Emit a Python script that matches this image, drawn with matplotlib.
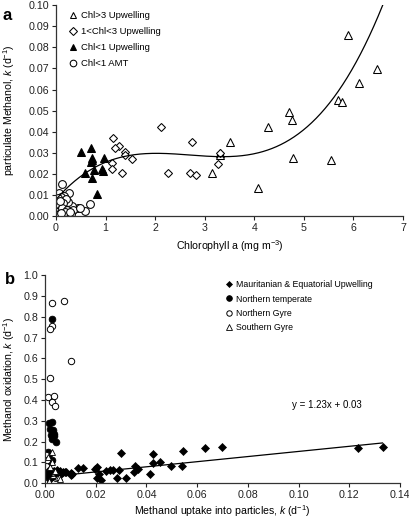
import matplotlib
matplotlib.use("Agg")
import matplotlib.pyplot as plt
import numpy as np

plt.rcParams['font.family'] = ['Liberation Sans', 'DejaVu Sans']
plt.rcParams['mathtext.fontset'] = 'custom'
plt.rcParams['mathtext.rm'] = 'Liberation Sans'
plt.rcParams['mathtext.it'] = 'Liberation Sans:italic'
plt.rcParams['mathtext.bf'] = 'Liberation Sans:bold'

# ---------------- Panel a data ----------------
chl3_x = [5.89, 6.47, 6.11, 5.68, 5.76, 4.70, 4.77, 4.28, 3.50, 3.30, 3.31, 3.15, 4.79, 5.54, 4.07]
chl3_y = [0.0858, 0.0695, 0.0629, 0.0550, 0.0539, 0.0494, 0.0455, 0.0423, 0.0352, 0.0297, 0.0290,
          0.0202, 0.0273, 0.0264, 0.0133]

chl13_x = [2.11, 2.75, 2.26, 2.70, 2.82, 3.27, 3.30, 1.14, 1.28, 1.20, 1.40, 1.40, 1.54, 1.12, 1.12, 1.34]
chl13_y = [0.0421, 0.0352, 0.0206, 0.0202, 0.0195, 0.0248, 0.0300, 0.0368, 0.0333, 0.0321, 0.0302,
           0.0289, 0.0270, 0.0252, 0.0222, 0.0202]

chl1_up_x = [0.51, 0.70, 0.72, 0.70, 0.73, 0.97, 0.58, 0.77, 0.92, 0.94, 0.72, 0.83,
             0.05, 0.08, 0.10, 0.12, 0.15, 0.20, 0.25, 0.30, 0.33, 0.06, 0.09, 0.04, 0.18, 0.28]
chl1_up_y = [0.0305, 0.0324, 0.0276, 0.0254, 0.0265, 0.0273, 0.0206, 0.0217, 0.0221, 0.0213, 0.0182, 0.0103,
             0.0020, 0.0040, 0.0060, 0.0030, 0.0050, 0.0020, 0.0030, 0.0030, 0.0040, 0.0070, 0.0010, 0.0050,
             0.0015, 0.0025]

amt_x = [0.13, 0.06, 0.26, 0.16, 0.68, 0.45, 0.58, 0.32, 0.25, 0.10, 0.20, 0.15, 0.05, 0.08, 0.03,
         0.12, 0.22, 0.35, 0.48, 0.04, 0.09, 0.18, 0.30, 0.07, 0.02, 0.11, 0.28]
amt_y = [0.0154, 0.0107, 0.0107, 0.0094, 0.0059, 0.0040, 0.0024, 0.0046, 0.0067, 0.0090, 0.0080,
         0.0060, 0.0050, 0.0030, 0.0020, 0.0040, 0.0030, 0.0030, 0.0036, 0.0085, 0.0070, 0.0020,
         0.0010, 0.0010, 0.0005, 0.0015, 0.0020]

# cubic trendline coefficients (constant, x, x^2, x^3)
trend_coef = [0.007826, 0.027037, -0.010686, 0.0013211]

# ---------------- Panel b data ----------------
maur_x = [0.1331, 0.1235, 0.0697, 0.0629, 0.0546, 0.0539, 0.0496, 0.0454, 0.0427, 0.0424, 0.0414,
          0.0366, 0.0353, 0.0349, 0.0300, 0.0320, 0.0285, 0.0292, 0.0270, 0.0256, 0.0241, 0.0204,
          0.0197, 0.0214, 0.0204, 0.0221, 0.0151, 0.0129, 0.0103, 0.0101, 0.0079, 0.0059, 0.0043,
          0.0070, 0.0084, 0.0105, 0.0046, 0.0030, 0.0020, 0.0010, 0.0005, 0.0035, 0.0025, 0.0015,
          0.0055, 0.0065, 0.0002, 0.0012]
maur_y = [0.176, 0.171, 0.176, 0.171, 0.155, 0.085, 0.085, 0.101, 0.141, 0.099, 0.043,
          0.069, 0.083, 0.056, 0.147, 0.024, 0.027, 0.064, 0.064, 0.064, 0.061, 0.080,
          0.067, 0.045, 0.024, 0.016, 0.075, 0.072, 0.040, 0.051, 0.056, 0.061, 0.045,
          0.056, 0.052, 0.043, 0.063, 0.035, 0.050, 0.030, 0.040, 0.060, 0.025, 0.065,
          0.050, 0.045, 0.035, 0.020]

ntemp_x = [0.0029, 0.0017, 0.0026, 0.0020, 0.0030, 0.0024, 0.0034, 0.0028, 0.0036, 0.0042, 0.0011,
           0.0014, 0.0029, 0.0023, 0.0010, 0.0015, 0.0030, 0.0005, 0.0040, 0.0020]
ntemp_y = [0.787, 0.291, 0.296, 0.260, 0.255, 0.230, 0.235, 0.215, 0.225, 0.198, 0.152,
           0.140, 0.112, 0.100, 0.035, 0.050, 0.060, 0.020, 0.040, 0.030]

ngyre_x = [0.0026, 0.0076, 0.0028, 0.0020, 0.0101, 0.0020, 0.0013, 0.0036, 0.0029, 0.0039, 0.0003, 0.0008]
ngyre_y = [0.867, 0.875, 0.755, 0.739, 0.587, 0.504, 0.413, 0.421, 0.392, 0.373, 0.136, 0.110]

sgyre_x = [0.0026, 0.0026, 0.0011, 0.0033, 0.0046, 0.0055, 0.0060, 0.0005, 0.0015, 0.0040, 0.0020]
sgyre_y = [0.152, 0.104, 0.128, 0.040, 0.024, 0.030, 0.020, 0.005, 0.010, 0.060, 0.080]

reg_slope, reg_icpt = 1.23, 0.03
reg_xrange = [0.0, 0.1331]

fig = plt.figure(figsize=(4.10, 5.18), dpi=100)
ax1 = fig.add_axes([0.1366, 0.583, 0.8464, 0.407])
ax2 = fig.add_axes([0.1098, 0.0670, 0.8658, 0.402])

ms_tri = 5.6
ew = 0.75
ax1.plot(chl3_x, chl3_y, ls='none', marker='^', ms=ms_tri, mfc='white', mec='black', mew=ew,
         label='Chl>3 Upwelling')
ax1.plot(chl13_x, chl13_y, ls='none', marker='D', ms=4.3, mfc='white', mec='black', mew=ew,
         label='1<Chl<3 Upwelling')
ax1.plot(chl1_up_x, chl1_up_y, ls='none', marker='^', ms=ms_tri, mfc='black', mec='black', mew=ew,
         label='Chl<1 Upwelling')
ax1.plot(amt_x, amt_y, ls='none', marker='o', ms=5.6, mfc='white', mec='black', mew=ew,
         label='Chl<1 AMT')
xc = np.linspace(0.02, 6.7, 300)
yc = np.polyval(trend_coef[::-1], xc)
ax1.plot(xc, yc, color='black', lw=0.9)

ax1.set_xlim(0, 7)
ax1.set_ylim(0, 0.10)
ax1.set_xticks(np.arange(0, 8, 1))
ax1.set_yticks(np.arange(0, 0.101, 0.01))
ax1.yaxis.set_major_formatter(matplotlib.ticker.FormatStrFormatter('%.2f'))
ax1.set_xlabel('Chlorophyll a (mg m$^{-3}$)', fontsize=7.6, labelpad=4)
ax1.set_ylabel('particulate Methanol, $\\it{k}$ (d$^{-1}$)', fontsize=7.6)
ax1.yaxis.set_label_coords(-0.112, 0.5)
leg1 = ax1.legend(loc='upper left', bbox_to_anchor=(0.02, 1.0), frameon=False, fontsize=6.8,
                  handlelength=1.0, handletextpad=0.3, labelspacing=0.75, borderaxespad=0.2,
                  markerscale=0.85)

ax2.plot(maur_x, maur_y, ls='none', marker='D', ms=3.6, mfc='black', mec='black', mew=0.5,
         label='Mauritanian & Equatorial Upwelling')
ax2.plot(ntemp_x, ntemp_y, ls='none', marker='o', ms=4.8, mfc='black', mec='black', mew=0.6,
         label='Northern temperate')
ax2.plot(ngyre_x, ngyre_y, ls='none', marker='o', ms=4.6, mfc='white', mec='black', mew=0.7,
         label='Northern Gyre')
ax2.plot(sgyre_x, sgyre_y, ls='none', marker='^', ms=4.4, mfc='white', mec='black', mew=0.6,
         label='Southern Gyre')
xr = np.array(reg_xrange)
ax2.plot(xr, reg_slope * xr + reg_icpt, color='black', lw=0.9)
ax2.text(0.111, 0.376, 'y = %.2fx + %.2f' % (reg_slope, reg_icpt), fontsize=7, ha='center', va='center')

ax2.set_xlim(0, 0.14)
ax2.set_ylim(0, 1.0)
ax2.set_xticks(np.arange(0, 0.141, 0.02))
ax2.set_yticks(np.arange(0, 1.01, 0.1))
ax2.xaxis.set_major_formatter(matplotlib.ticker.FormatStrFormatter('%.2f'))
ax2.yaxis.set_major_formatter(matplotlib.ticker.FormatStrFormatter('%.1f'))
ax2.set_xlabel('Methanol uptake into particles, $\\it{k}$ (d$^{-1}$)', fontsize=7.6, labelpad=2)
ax2.set_ylabel('Methanol oxidation, $\\it{k}$ (d$^{-1}$)', fontsize=7.6)
ax2.yaxis.set_label_coords(-0.078, 0.5)
leg2 = ax2.legend(loc='upper left', bbox_to_anchor=(0.49, 1.0), frameon=False, fontsize=6.3,
                  handlelength=1.0, handletextpad=0.3, labelspacing=0.6, borderaxespad=0.2,
                  markerscale=0.85)

for ax in (ax1, ax2):
    for s in ('top', 'right'):
        ax.spines[s].set_visible(False)
    for s in ('left', 'bottom'):
        ax.spines[s].set_linewidth(0.9)
        ax.spines[s].set_color('#333333')
    ax.tick_params(direction='out', length=3, width=0.8, labelsize=7.7, colors='#222222', pad=2)

fig.text(0.005, 0.985, 'a', fontsize=12, fontweight='bold', va='top', ha='left')
fig.text(0.012, 0.475, 'b', fontsize=12, fontweight='bold', va='top', ha='left')

fig.savefig('out.png', dpi=100)
